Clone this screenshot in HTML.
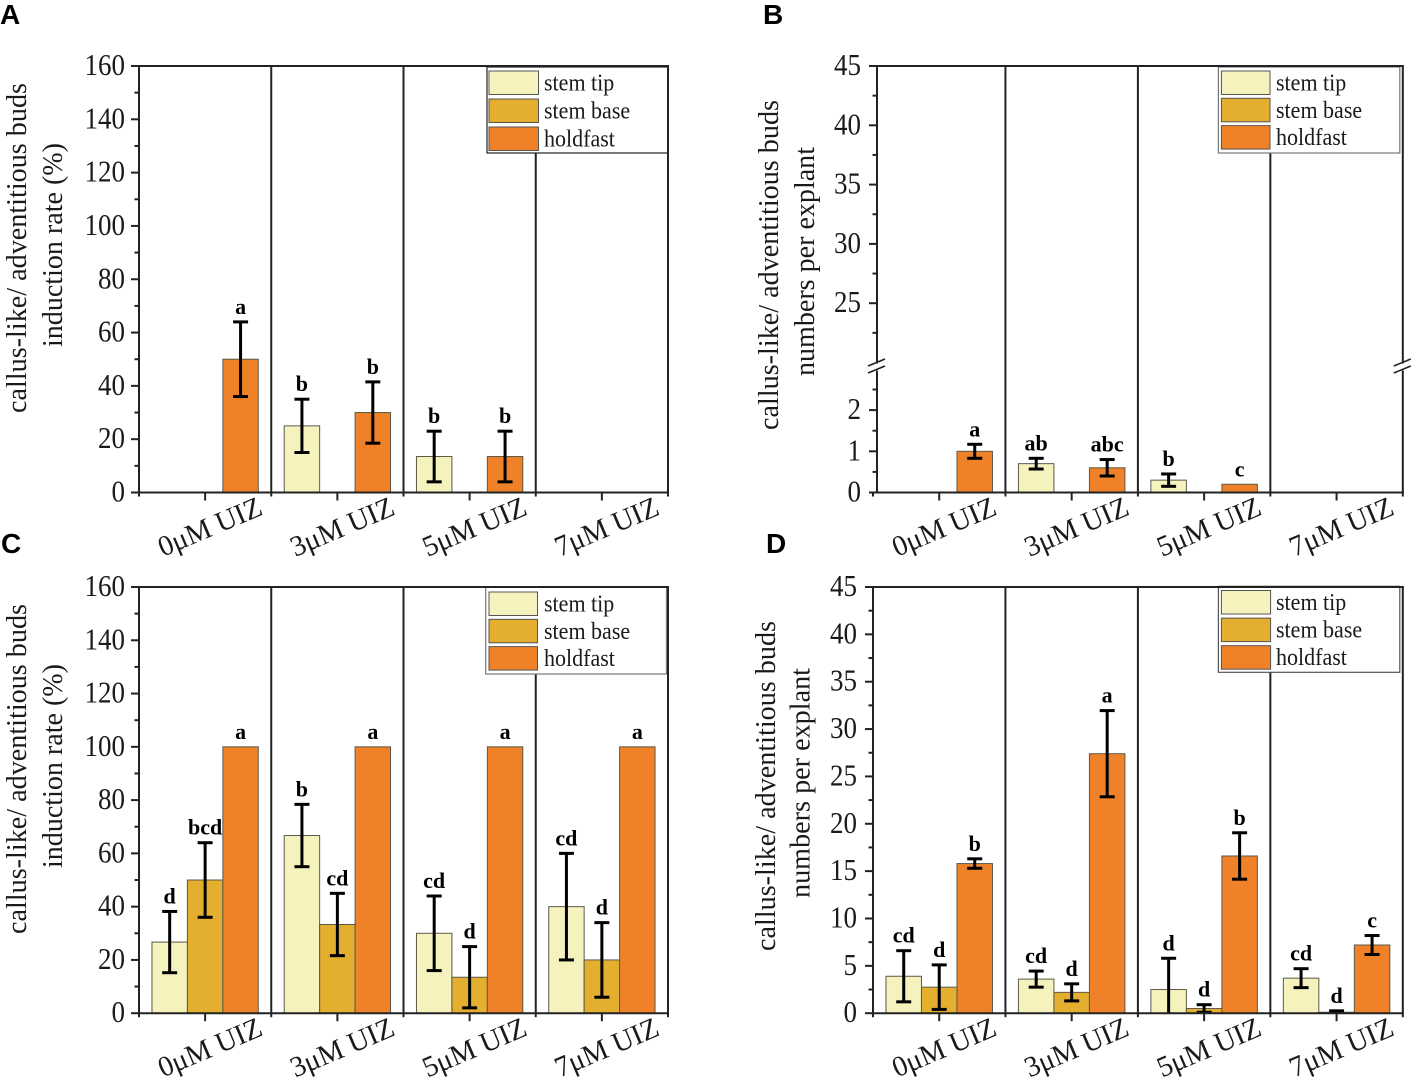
<!DOCTYPE html>
<html>
<head>
<meta charset="utf-8">
<title>Callus-like and adventitious bud charts</title>
<style>
html,body{margin:0;padding:0;background:#fff;}
svg{display:block;}
text{font-family:"Liberation Serif",serif;fill:#1a1a1a;}
.letter{font-family:"Liberation Sans",sans-serif;font-weight:bold;font-size:28px;fill:#000;}
.tick{font-size:27px;}
.cat{font-size:29px;}
.title{font-size:28px;}
.leg{font-size:22px;}
.sig{font-size:22px;font-weight:bold;fill:#000;}
</style>
</head>
<body>
<svg id="fig" xmlns="http://www.w3.org/2000/svg" width="1417" height="1086" viewBox="0 0 1417 1086"></svg>
<script>
const categories = ['0μM UIZ', '3μM UIZ', '5μM UIZ', '7μM UIZ'];
const seriesNames = ['stem tip', 'stem base', 'holdfast'];
const seriesColors = ['#f6f2be', '#e4ae2f', '#ef8228'];
const rateTicks = [0, 20, 40, 60, 80, 100, 120, 140, 160];
const countTicks = [0, 5, 10, 15, 20, 25, 30, 35, 40, 45];
const brokenLowTicks = [0, 1, 2];
const brokenHighTicks = [25, 30, 35, 40, 45];

const aTip = [0, 25, 13.5, 0];
const aBase = [0, 0, 0, 0];
const aHold = [50, 30, 13.5, 0];
const aTipErr = [0, 10, 9.5, 0];
const aBaseErr = [0, 0, 0, 0];
const aHoldErr = [14, 11.5, 9.5, 0];
const aTipSig = ['', 'b', 'b', ''];
const aBaseSig = ['', '', '', ''];
const aHoldSig = ['a', 'b', 'b', ''];

const bTip = [0, 0.7, 0.3, 0];
const bBase = [0, 0, 0, 0];
const bHold = [1, 0.6, 0.2, 0];
const bTipErr = [0, 0.13, 0.15, 0];
const bBaseErr = [0, 0, 0, 0];
const bHoldErr = [0.17, 0.2, 0, 0];
const bTipSig = ['', 'ab', 'b', ''];
const bBaseSig = ['', '', '', ''];
const bHoldSig = ['a', 'abc', 'c', ''];

const cTip = [26.7, 66.7, 30, 40];
const cBase = [50, 33.3, 13.5, 20];
const cHold = [100, 100, 100, 100];
const cTipErr = [11.5, 11.7, 14, 20];
const cBaseErr = [14, 11.7, 11.5, 14];
const cHoldErr = [0, 0, 0, 0];
const cTipSig = ['d', 'b', 'cd', 'cd'];
const cBaseSig = ['bcd', 'cd', 'd', 'd'];
const cHoldSig = ['a', 'a', 'a', 'a'];

const dTip = [3.9, 3.6, 2.5, 3.7];
const dBase = [2.75, 2.2, 0.5, 0.1];
const dHold = [15.8, 27.4, 16.6, 7.2];
const dTipErr = [2.7, 0.85, 3.3, 1];
const dBaseErr = [2.35, 0.9, 0.4, 0.15];
const dHoldErr = [0.5, 4.55, 2.45, 1];
const dTipSig = ['cd', 'cd', 'd', 'cd'];
const dBaseSig = ['d', 'd', 'd', 'd'];
const dHoldSig = ['b', 'a', 'b', 'c'];

const NS = 'http://www.w3.org/2000/svg';
const fig = document.getElementById('fig');

function make(parent, tag, attrs, txt) {
  const el = document.createElementNS(NS, tag);
  for (const k in attrs) el.setAttribute(k, attrs[k]);
  if (txt !== undefined) el.textContent = txt;
  parent.appendChild(el);
  return el;
}
// keep a text's measured width but draw it taller, like the condensed type in the figure
function condense(el, bigger) {
  const w = el.getComputedTextLength();
  el.style.fontSize = bigger + 'px';
  el.setAttribute('textLength', w);
  el.setAttribute('lengthAdjust', 'spacingAndGlyphs');
}
function linearY(top, bottom, max) {
  return v => bottom - (v / max) * (bottom - top);
}
function brokenY(top, bottom) {
  return v => v <= 3 ? bottom - v * 41.2 : top + (45 - v) * 11.86;
}

function drawPanel(p) {
  const g = make(fig, 'g', {});
  
  
  const groupW = (p.right - p.xStart) / categories.length;
  const barW = groupW * 0.268;
  const cx = i => p.xStart + groupW * (i + 0.5);
  const bx = (i, s) => cx(i) + (s - 1) * barW;
  const y = p.y;

  const letter = make(g, 'text', {x: p.letterX, y: p.letterY, class: 'letter'}, p.id);
  
  

  // bars
  p.values.forEach((vals, s) => {
    vals.forEach((v, i) => {
      if (v <= 0) return;
      const r = make(g, 'rect', {x: bx(i, s) - barW / 2, y: y(v), width: barW, height: y(0) - y(v), fill: seriesColors[s], stroke: '#5a5a4a', 'stroke-width': 1});
      
      
    });
  });

  // error bars and significance letters
  p.values.forEach((vals, s) => {
    vals.forEach((v, i) => {
      const e = p.errors[s][i];
      const x = bx(i, s);
      let topY = y(v);
      if (e > 0) {
        const low = v - e;
        const high = v + e;
        topY = y(high);
        const eg = make(g, 'g', {stroke: '#000', 'stroke-width': 3, fill: 'none'});
        
        
        make(eg, 'line', {x1: x, x2: x, y1: y(high), y2: y(Math.max(low, 0))});
        make(eg, 'line', {x1: x - 7.5, x2: x + 7.5, y1: y(high), y2: y(high)});
        if (low >= 0) make(eg, 'line', {x1: x - 7.5, x2: x + 7.5, y1: y(low), y2: y(low)});
      }
      const s2 = p.sig[s][i];
      if (s2) {
        const t = make(g, 'text', {x: x, y: topY - 8, class: 'sig', 'text-anchor': 'middle'}, s2);
        
        
      }
    });
  });

  // dividers
  for (let i = 1; i < categories.length; i++) {
    const d = make(g, 'line', {x1: p.xStart + groupW * i, x2: p.xStart + groupW * i, y1: p.top, y2: p.bottom, stroke: '#222', 'stroke-width': 2});
    
    
  }

  // legend
  const L = p.legend;
  const lg = make(g, 'g', {});
  
  
  make(lg, 'rect', {x: L.x, y: L.y, width: L.w, height: L.h, fill: '#fff', stroke: L.border, 'stroke-width': 1.2});
  seriesNames.forEach((name, s) => {
    const sy = L.y + L.pad + s * L.step;
    const sw = make(lg, 'rect', {x: L.x + L.inset, y: sy, width: L.sw, height: 23.5, fill: seriesColors[s], stroke: '#555', 'stroke-width': 1});
    
    
    const lt = make(lg, 'text', {x: L.textX, y: sy + 19.5, class: 'leg'}, name);
    
    
    condense(lt, 24);
  });

  // frame
  const ax = make(g, 'g', {stroke: '#222', 'stroke-width': 2, fill: 'none'});
  
  
  make(ax, 'line', {x1: p.left - 1, x2: p.right + 1, y1: p.top, y2: p.top});
  make(ax, 'line', {x1: p.xStart - 1, x2: p.right + 1, y1: p.bottom, y2: p.bottom});
  if (p.breakY) {
    [p.left, p.right].forEach(x => {
      make(ax, 'line', {x1: x, x2: x, y1: p.top, y2: p.breakY - 3.5});
      make(ax, 'line', {x1: x, x2: x, y1: p.breakY + 3.5, y2: p.bottom});
      make(ax, 'line', {x1: x - 9, x2: x + 8, y1: p.breakY - 1, y2: p.breakY - 8, 'stroke-width': 1.6});
      make(ax, 'line', {x1: x - 9, x2: x + 8, y1: p.breakY + 6, y2: p.breakY - 1, 'stroke-width': 1.6});
    });
  } else {
    make(ax, 'line', {x1: p.left, x2: p.left, y1: p.top, y2: p.bottom});
    make(ax, 'line', {x1: p.right, x2: p.right, y1: p.top, y2: p.bottom});
  }

  // y ticks
  p.majors.forEach(v => {
    make(ax, 'line', {x1: p.left - 8, x2: p.left, y1: y(v), y2: y(v)});
    const t = make(g, 'text', {x: p.labelRight, y: y(v) + 9, class: 'tick', 'text-anchor': 'end'}, String(v));
    
    
    condense(t, 31);
  });
  p.minors.forEach(v => {
    make(ax, 'line', {x1: p.left - 4.5, x2: p.left, y1: y(v), y2: y(v)});
  });

  // x ticks and labels
  categories.forEach((c, i) => {
    make(ax, 'line', {x1: cx(i), x2: cx(i), y1: p.bottom, y2: p.bottom + 8});
    make(ax, 'line', {x1: p.xStart + groupW * i, x2: p.xStart + groupW * i, y1: p.bottom, y2: p.bottom + 4});
    const lx = cx(i) + 8.5;
    const ly = p.bottom + 43;
    const t = make(g, 'text', {x: lx, y: ly, class: 'cat', 'text-anchor': 'middle', textLength: 110, lengthAdjust: 'spacingAndGlyphs', transform: 'rotate(-23 ' + lx + ' ' + ly + ')'}, c);
    
    
  });
  make(ax, 'line', {x1: p.right, x2: p.right, y1: p.bottom, y2: p.bottom + 4});

  // y titles
  p.titles.forEach(tt => {
    const my = (tt.y1 + tt.y2) / 2;
    const t = make(g, 'text', {x: tt.x, y: my, class: 'title', 'text-anchor': 'middle', textLength: tt.y2 - tt.y1, lengthAdjust: 'spacingAndGlyphs', transform: 'rotate(-90 ' + tt.x + ' ' + my + ')'}, tt.text);
    
    
  });
}

function midpoints(arr) {
  const out = [];
  for (let i = 0; i < arr.length - 1; i++) out.push((arr[i] + arr[i + 1]) / 2);
  return out;
}

const title1 = 'callus-like/ adventitious buds';
const title2a = 'induction rate (%)';
const title2b = 'numbers per explant';

drawPanel({
  id: 'A', letterX: 0, letterY: 24, left: 139, xStart: 139, right: 668, top: 66, bottom: 492.5,
  y: linearY(66, 492.5, 160), majors: rateTicks, minors: midpoints(rateTicks), labelRight: 125,
  values: [aTip, aBase, aHold], errors: [aTipErr, aBaseErr, aHoldErr], sig: [aTipSig, aBaseSig, aHoldSig],
  legend: {x: 487, y: 67, w: 181, h: 86, pad: 4, step: 28, sw: 49.5, inset: 2, textX: 544, border: '#222'},
  titles: [{x: 26, y1: 83, y2: 413, text: title1}, {x: 62, y1: 143, y2: 347, text: title2a}]
});
drawPanel({
  id: 'B', letterX: 763, letterY: 24, left: 877, xStart: 873, right: 1402.8, top: 66, bottom: 492.5, breakY: 367,
  y: brokenY(66, 492.5), majors: brokenLowTicks.concat(brokenHighTicks),
  minors: [0.5, 1.5, 2.5, 22.5].concat(midpoints(brokenHighTicks)), labelRight: 861,
  values: [bTip, bBase, bHold], errors: [bTipErr, bBaseErr, bHoldErr], sig: [bTipSig, bBaseSig, bHoldSig],
  legend: {x: 1218.4, y: 67, w: 181.4, h: 86, pad: 4, step: 27.3, sw: 48.6, inset: 3, textX: 1276, border: '#777'},
  titles: [{x: 778, y1: 100, y2: 430, text: title1}, {x: 814, y1: 147, y2: 376, text: title2b}]
});
drawPanel({
  id: 'C', letterX: 1, letterY: 553, left: 139, xStart: 139, right: 668, top: 587, bottom: 1013.2,
  y: linearY(587, 1013.2, 160), majors: rateTicks, minors: midpoints(rateTicks), labelRight: 125,
  values: [cTip, cBase, cHold], errors: [cTipErr, cBaseErr, cHoldErr], sig: [cTipSig, cBaseSig, cHoldSig],
  legend: {x: 485.7, y: 587.4, w: 180.8, h: 86.6, pad: 4.6, step: 27.3, sw: 48.5, inset: 3.3, textX: 544, border: '#777'},
  titles: [{x: 26, y1: 604, y2: 934, text: title1}, {x: 62, y1: 664, y2: 868, text: title2a}]
});
drawPanel({
  id: 'D', letterX: 766, letterY: 553, left: 873, xStart: 873, right: 1402.8, top: 587, bottom: 1013.2,
  y: linearY(587, 1013.2, 45), majors: countTicks, minors: midpoints(countTicks), labelRight: 857,
  values: [dTip, dBase, dHold], errors: [dTipErr, dBaseErr, dHoldErr], sig: [dTipSig, dBaseSig, dHoldSig],
  legend: {x: 1218.4, y: 586.3, w: 181.4, h: 86, pad: 4.2, step: 27.6, sw: 49.2, inset: 3, textX: 1276, border: '#555'},
  titles: [{x: 775, y1: 621, y2: 951, text: title1}, {x: 809.5, y1: 668, y2: 898, text: title2b}]
});
</script>
</body>
</html>
